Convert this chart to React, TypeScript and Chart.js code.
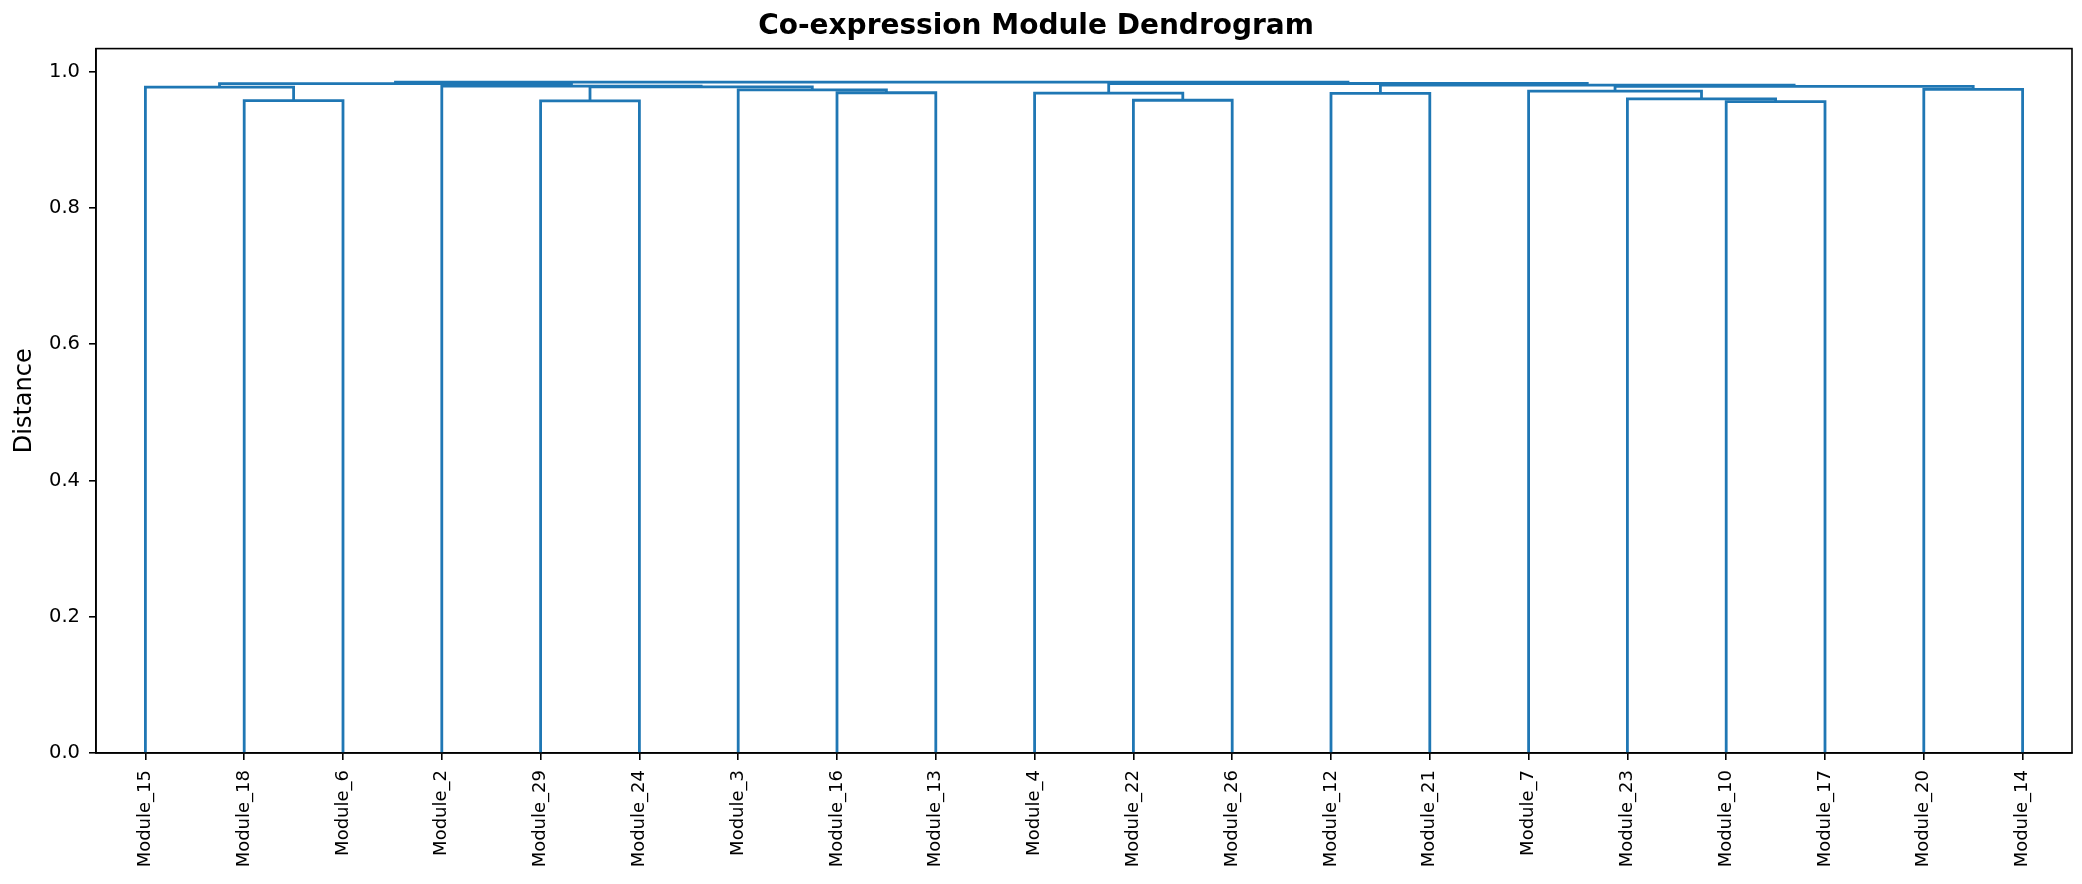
import React, { useEffect, useRef } from 'react';
import { Chart, registerables } from 'chart.js';

Chart.register(...registerables);

// leaves, left to right as the dendrogram orders them
const leafLabels = [
  'Module_15', 'Module_18', 'Module_6', 'Module_2', 'Module_29',
  'Module_24', 'Module_3', 'Module_16', 'Module_13', 'Module_4',
  'Module_22', 'Module_26', 'Module_12', 'Module_21', 'Module_7',
  'Module_23', 'Module_10', 'Module_17', 'Module_20', 'Module_14',
];

// linkage rows (scipy style): merge k makes cluster number 20 + k
const mergeLeft = [16, 1, 10, 4, 15, 9, 12, 7, 14, 6, 18, 0, 23, 28, 3, 26, 31, 25, 36];
const mergeRight = [17, 2, 11, 5, 20, 22, 13, 8, 24, 27, 19, 21, 29, 30, 32, 33, 34, 35, 37];
const mergeHeight = [
  0.956, 0.9575, 0.958, 0.957, 0.960, 0.9685, 0.968, 0.969, 0.9714, 0.9733,
  0.9739, 0.9773, 0.9777, 0.9783, 0.9788, 0.9802, 0.9824, 0.9826, 0.9846,
];

const yTickStep = 0.2;

const LINE_COLOR = '#1f77b4';
const FONT = "'DejaVu Sans', sans-serif";

// leaves sit at 5, 15, 25 ... and each merge sits halfway between its two children
function buildLinks() {
  const n = leafLabels.length;
  const xs: number[] = leafLabels.map((_, i) => 5 + 10 * i);
  const ys: number[] = leafLabels.map(() => 0);
  return mergeHeight.map((h, k) => {
    const a = mergeLeft[k];
    const b = mergeRight[k];
    xs[n + k] = (xs[a] + xs[b]) / 2;
    ys[n + k] = h;
    return [
      { x: xs[a], y: ys[a] },
      { x: xs[a], y: h },
      { x: xs[b], y: h },
      { x: xs[b], y: ys[b] },
    ];
  });
}

// matplotlib-like box around the plot area
const framePlugin = {
  id: 'frame',
  afterDatasetsDraw(chart: any) {
    const { ctx, chartArea: a } = chart;
    ctx.save();
    ctx.strokeStyle = '#000';
    ctx.lineWidth = 1.6;
    ctx.strokeRect(a.left, a.top, a.right - a.left, a.bottom - a.top);
    ctx.restore();
  },
};

const App: React.FC = () => {
  const canvasRef = useRef<HTMLCanvasElement | null>(null);

  useEffect(() => {
    document.body.style.margin = '0';
    if (!canvasRef.current) return;

    const links = buildLinks();
    const yMax = Math.max(...mergeHeight) * 1.05;
    const axisGrid = { drawOnChartArea: false, drawTicks: true, tickLength: 7, color: '#000', lineWidth: 1.6 };
    const axisBorder = { display: true, color: '#000', width: 1.6 };

    const chart = new Chart(canvasRef.current, {
      type: 'scatter',
      data: {
        datasets: links.map((pts) => ({
          data: pts,
          showLine: true,
          borderColor: LINE_COLOR,
          backgroundColor: LINE_COLOR,
          borderWidth: 2.8,
          pointRadius: 0,
          pointHoverRadius: 0,
          fill: false,
        })),
      },
      options: {
        responsive: false,
        animation: false,
        layout: { padding: { top: 0, right: 10, bottom: 0, left: 0 } },
        plugins: {
          legend: { display: false },
          tooltip: { enabled: false },
          title: {
            display: true,
            text: 'Co-expression Module Dendrogram',
            color: '#000',
            font: { family: FONT, size: 28, weight: 'bold' },
            padding: { top: 10, bottom: 5 },
          },
        },
        scales: {
          x: {
            type: 'linear',
            min: 0,
            max: 200,
            afterBuildTicks: (scale: any) => {
              scale.ticks = leafLabels.map((_, i) => ({ value: 5 + 10 * i }));
            },
            afterFit: (scale: any) => {
              scale.height = 131;
            },
            ticks: {
              autoSkip: false,
              minRotation: 90,
              maxRotation: 90,
              padding: 10,
              color: '#000',
              font: { family: FONT, size: 18 },
              callback: (_v: any, i: number) => leafLabels[i],
            },
            grid: axisGrid,
            border: axisBorder,
          },
          y: {
            type: 'linear',
            min: 0,
            max: yMax,
            afterFit: (scale: any) => {
              scale.width = 96;
            },
            ticks: {
              stepSize: yTickStep,
              includeBounds: false,
              padding: 9,
              color: '#000',
              font: { family: FONT, size: 19.5 },
              callback: (v: any) => Number(v).toFixed(1),
            },
            title: {
              display: true,
              text: 'Distance',
              color: '#000',
              font: { family: FONT, size: 24 },
              padding: { top: 10, bottom: 0 },
            },
            grid: axisGrid,
            border: axisBorder,
          },
        },
      } as any,
      plugins: [framePlugin],
    });

    return () => {
      chart.destroy();
    };
  }, []);

  return (
    <div style={{ width: 2082, height: 884 }}>
      <canvas ref={canvasRef} width={2082} height={884} style={{ display: 'block' }}></canvas>
    </div>
  );
};

export default App;
